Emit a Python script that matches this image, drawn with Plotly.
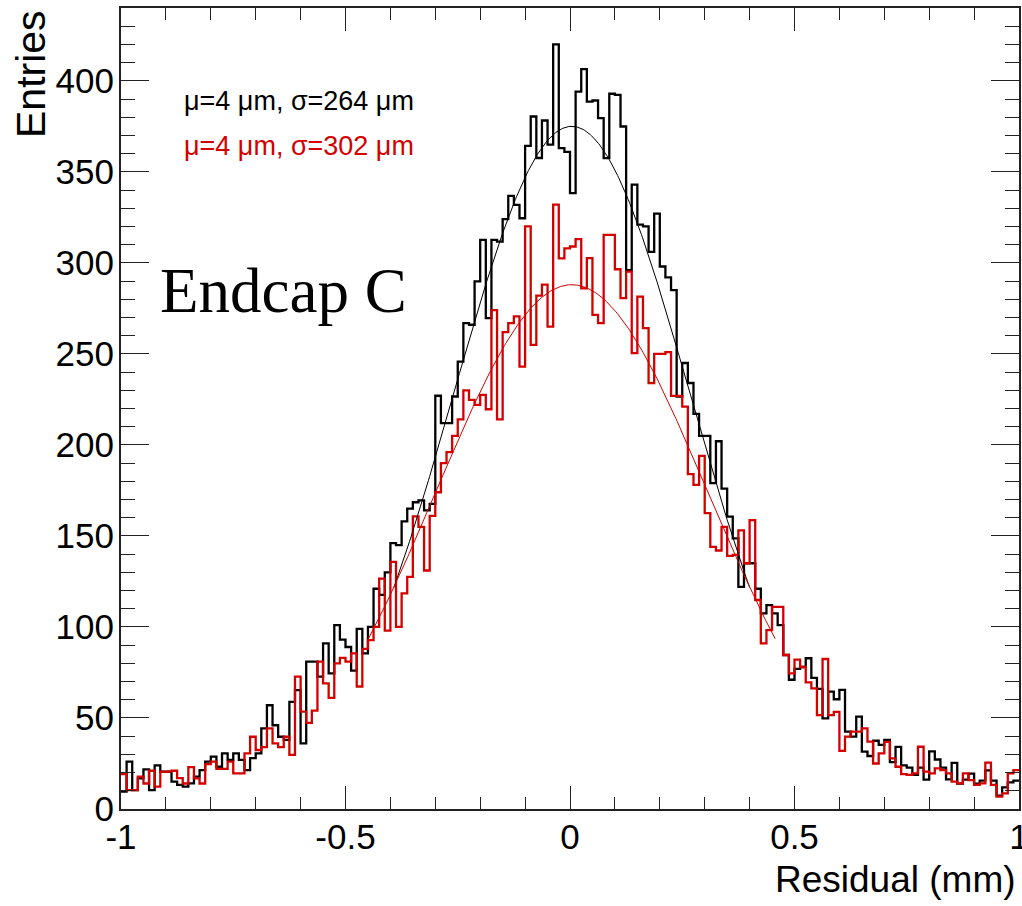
import numpy as np
import plotly.graph_objects as go

# Histogram definition: 160 bins from -1 to 1 mm
n_bins = 160
x_min, x_max = -1.0, 1.0

# Entries per bin, black histogram (sigma = 264 um)
black_counts = [
    9.5, 26, 10.4, 16.8, 21.8, 10.4, 24, 20.5, 20.5, 15,
    13.2, 12.3, 14.1, 17.8, 21.4, 26, 28.8, 23.2, 30.6, 27,
    30.6, 27, 21.4, 28, 30.6, 44.3, 57, 46, 39.7, 38,
    58.9, 65.3, 36, 81, 81, 72.7, 91, 74.5, 101, 93, 89,
    76, 99, 85.5, 100, 121, 117.6, 130, 146, 145, 158,
    165, 168.5, 169.5, 164, 167.6, 227, 212, 212,
    226.6, 245.7, 266.9, 266, 289.8, 312.6, 269.6, 312.6, 311.7, 324,
    336.8, 331.9, 324.5, 364.3, 380.4, 357.6, 378.2, 365, 420, 363, 361,
    338.3, 394.1, 406.4, 388.6, 389.2, 379.5, 357.5, 392.9, 392.3, 374.9,
    296, 343, 321, 320, 306, 327, 298, 292, 285, 226.6,
    245, 234, 217, 205, 205, 179, 202, 176, 160.6, 148.7,
    122, 135, 135, 121, 107.5, 112, 107.5, 101, 84.6, 71,
    77, 78, 82.8, 72, 66, 49.8, 64.5, 60.3, 65.4, 42.5,
    39.8, 50.7, 31.5, 29.1, 37.5, 35.2, 38, 25.8, 34.1,
    24, 22.7, 18.7, 22.7, 16.1, 31.7, 27.2, 22.7, 16.3, 25.3,
    13.9, 16.1, 19.4, 13.9, 15.6, 21.2, 15.6, 7.3, 11.9, 14.6, 15.6,
]

# Entries per bin, red histogram (sigma = 302 um)
red_counts = [
    19.2, 10.4, 10.4, 17.8, 14, 21, 12.3, 20.5, 20.5, 21,
    17, 14, 23, 16.8, 14, 24.7, 26, 22, 22, 26,
    19.6, 19.6, 30.6, 39.7, 32.4, 34, 44.3, 36, 34, 39.7,
    29.7, 72.7, 53.5, 47.3, 54, 81, 69, 61, 80, 83, 81,
    85.5, 67.3, 88, 92.8, 100, 126.6, 98, 135.7, 100, 118.5,
    127.5, 160.7, 155, 131, 161, 174, 190, 196,
    205, 214, 230, 224.7, 222, 227.5, 219.6, 274, 214, 262,
    266.9, 270.6, 243, 320, 255, 282, 288, 265, 332, 302.5, 308,
    309, 313, 286, 302.6, 271.4, 266.9, 315.4, 315.4, 296.5, 280.6,
    295.2, 250.4, 281.5, 264.1, 233.9, 250, 250, 251, 226.9, 226.9,
    221, 184, 178, 194, 162.5, 144, 142, 155, 139, 139.6,
    153, 135, 158.7, 114.8, 91, 98.3, 111, 111, 84.6, 74.5,
    82, 78, 69.6, 66.3, 51.6, 82.4, 51.6, 53.4, 31.9, 39.8,
    42.5, 42.5, 44.3, 37, 25, 30.6, 36.9, 27.8, 23.2,
    19.2, 18.7, 19.6, 34.2, 20.5, 19.6, 22.3, 21.4, 19.6, 15,
    14.1, 19.6, 15.9, 13.2, 14.1, 25.5, 13.2, 6.8, 8.6, 19.6, 21.4,
]

# Gaussian fit parameters (amplitude in entries, mean and sigma in mm)
black_fit = {"amp": 375.0, "mean": 0.004, "sigma": 0.264}
red_fit = {"amp": 288.0, "mean": 0.004, "sigma": 0.302}
fit_range_sigmas = 1.5

black_label = "μ=4 μm, σ=264 μm"
red_label = "μ=4 μm, σ=302 μm"
panel_label = "Endcap C"

x_ticks = [-1, -0.5, 0, 0.5, 1]
x_tick_text = ["-1", "-0.5", "0", "0.5", "1"]
y_ticks = [0, 50, 100, 150, 200, 250, 300, 350, 400]

BLACK = "#000000"
RED = "#d40000"

edges = np.linspace(x_min, x_max, n_bins + 1)


def step_xy(counts):
    c = list(counts)
    return edges, c + [c[-1]]


def gauss_curve(p):
    lo = p["mean"] - fit_range_sigmas * p["sigma"]
    hi = p["mean"] + fit_range_sigmas * p["sigma"]
    xs = np.linspace(lo, hi, 300)
    ys = p["amp"] * np.exp(-0.5 * ((xs - p["mean"]) / p["sigma"]) ** 2)
    return xs, ys


fig = go.Figure()

bx, by = step_xy(black_counts)
rx, ry = step_xy(red_counts)
fig.add_trace(go.Scatter(x=bx, y=by, mode="lines", line=dict(color=BLACK, width=2.3, shape="hv"),
                         hoverinfo="skip", showlegend=False))
fig.add_trace(go.Scatter(x=rx, y=ry, mode="lines", line=dict(color=RED, width=2.3, shape="hv"),
                         hoverinfo="skip", showlegend=False))
fx, fy = gauss_curve(black_fit)
fig.add_trace(go.Scatter(x=fx, y=fy, mode="lines", line=dict(color=BLACK, width=1),
                         hoverinfo="skip", showlegend=False))
fx, fy = gauss_curve(red_fit)
fig.add_trace(go.Scatter(x=fx, y=fy, mode="lines", line=dict(color=RED, width=1),
                         hoverinfo="skip", showlegend=False))

tick_font = dict(family="Liberation Sans, Arial, Helvetica, sans-serif", size=35, color="black")
title_font_family = "Liberation Sans, Arial, Helvetica, sans-serif"

W, H = 1022, 906
L, R, T, B = 121, 3, 8, 97
pw, ph = W - L - R, H - T - B


def px_to_paper_x(px):
    return (px - L) / pw


def px_to_paper_y(py):
    return (H - B - py) / ph


fig.update_layout(
    width=W, height=H,
    margin=dict(l=L, r=R, t=T, b=B, pad=0, autoexpand=False),
    paper_bgcolor="white", plot_bgcolor="white",
    xaxis=dict(
        range=[x_min, x_max], tickvals=x_ticks, ticktext=x_tick_text,
        ticks="inside", ticklen=23, tickwidth=1.2, tickcolor="#222",
        minor=dict(dtick=0.1, ticks="inside", ticklen=12, tickwidth=1.2, tickcolor="#222", showgrid=False),
        showline=True, linecolor="#222", linewidth=2, mirror="allticks",
        showgrid=False, zeroline=False, tickfont=tick_font, automargin=False,
        ticklabeloverflow="allow", ticklabelstandoff=-4,
    ),
    yaxis=dict(
        range=[0, 440], tickvals=y_ticks,
        ticks="inside", ticklen=28, tickwidth=1.2, tickcolor="#222",
        minor=dict(dtick=10, ticks="inside", ticklen=14, tickwidth=1.2, tickcolor="#222", showgrid=False),
        showline=True, linecolor="#222", linewidth=2, mirror="allticks",
        showgrid=False, zeroline=False, tickfont=tick_font, automargin=False,
        ticklabeloverflow="allow", ticklabelstandoff=-2,
    ),
    annotations=[
        dict(text="Residual (mm)", xref="paper", yref="paper",
             x=px_to_paper_x(1018), y=px_to_paper_y(879), xanchor="right", yanchor="middle",
             showarrow=False, font=dict(family=title_font_family, size=37, color="black")),
        dict(text="Entries", xref="paper", yref="paper", textangle=-90,
             x=px_to_paper_x(31), y=px_to_paper_y(8), xanchor="center", yanchor="top",
             showarrow=False, font=dict(family=title_font_family, size=41, color="black")),
        dict(text=black_label, xref="paper", yref="paper",
             x=px_to_paper_x(182), y=px_to_paper_y(101), xanchor="left", yanchor="middle",
             showarrow=False, font=dict(family=title_font_family, size=27, color=BLACK)),
        dict(text=red_label, xref="paper", yref="paper",
             x=px_to_paper_x(182), y=px_to_paper_y(146), xanchor="left", yanchor="middle",
             showarrow=False, font=dict(family=title_font_family, size=27, color=RED)),
        dict(text=panel_label, xref="paper", yref="paper",
             x=px_to_paper_x(158), y=px_to_paper_y(291), xanchor="left", yanchor="middle",
             showarrow=False, font=dict(family="Liberation Serif, Times New Roman, serif", size=63, color="black")),
    ],
)

fig.write_html("out.html")
